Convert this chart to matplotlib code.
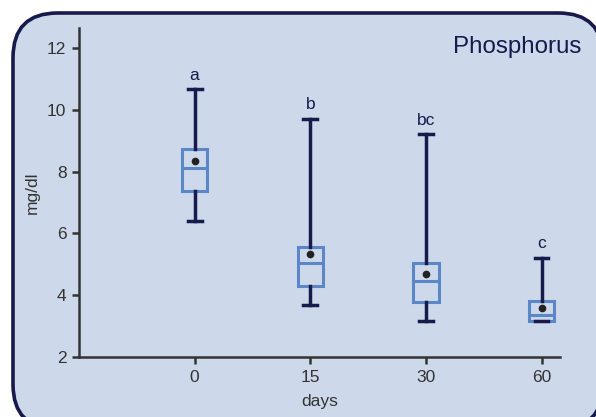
import matplotlib.pyplot as plt
from matplotlib.patches import FancyBboxPatch

plt.rcParams['font.family'] = ['Liberation Sans', 'DejaVu Sans']

days = ["0", "15", "30", "60"]
whisker_low = [6.4, 3.68, 3.15, 3.15]
q1 = [7.38, 4.3, 3.78, 3.15]
medians = [8.12, 5.04, 4.46, 3.35]
q3 = [8.74, 5.56, 5.05, 3.82]
whisker_high = [10.68, 9.72, 9.22, 5.22]
means = [8.34, 5.34, 4.69, 3.6]
letters = ["a", "b", "bc", "c"]

BG = "#cdd8ea"
NAVY = "#171a4b"
BOX = "#5b87c6"
AXIS = "#333333"

fig = plt.figure(figsize=(5.96, 4.17), dpi=100)

# rounded panel running off the right and bottom edges
panel = FancyBboxPatch(
    (13 / 596, -12 / 417), 590 / 596, 416 / 417,
    boxstyle="round,pad=0,rounding_size=0.075",
    transform=fig.transFigure, facecolor=BG, edgecolor=NAVY,
    linewidth=2.6, mutation_aspect=596 / 417, zorder=0
)
fig.add_artist(panel)

ax = fig.add_axes([79 / 596, 60 / 417, 481 / 596, 329 / 417])
ax.set_zorder(2)
ax.set_facecolor("none")

stats = []
for i in range(len(days)):
    stats.append(dict(
        whislo=whisker_low[i], q1=q1[i], med=medians[i], q3=q3[i],
        whishi=whisker_high[i], mean=means[i], label=days[i]
    ))

positions = list(range(len(days)))
ax.bxp(
    stats, positions=positions, widths=0.22, capwidths=0.12,
    showmeans=True, showfliers=False, patch_artist=True,
    boxprops=dict(facecolor="none", edgecolor=BOX, linewidth=2.2),
    medianprops=dict(color=BOX, linewidth=2.2),
    whiskerprops=dict(color=NAVY, linewidth=2.5),
    capprops=dict(color=NAVY, linewidth=2.5),
    meanprops=dict(marker="o", markerfacecolor="#222222",
                   markeredgecolor="#222222", markersize=4.5),
)

for i, txt in enumerate(letters):
    ax.text(positions[i], whisker_high[i] + 0.2, txt, ha="center",
            va="bottom", fontsize=12.5, color=NAVY)

ax.set_xlim(-1.0, 3.16)
ax.set_ylim(2, 12.65)
ax.set_yticks([2, 4, 6, 8, 10, 12])
ax.set_xticks(positions)
ax.set_xticklabels(days)

for side in ["top", "right"]:
    ax.spines[side].set_visible(False)
for side in ["left", "bottom"]:
    ax.spines[side].set_color(AXIS)
    ax.spines[side].set_linewidth(1.8)

ax.tick_params(colors=AXIS, width=1.8, length=5, labelsize=12.5,
               labelcolor=AXIS, pad=4)
ax.set_xlabel("days", fontsize=12.5, color=AXIS, labelpad=7)
ax.set_ylabel("mg/dl", fontsize=12.5, color=AXIS, labelpad=5)

fig.text(581 / 596, 1 - 47 / 417, "Phosphorus", ha="right", va="center",
         fontsize=17.4, color=NAVY, zorder=3)

fig.savefig("out.png", dpi=100)
